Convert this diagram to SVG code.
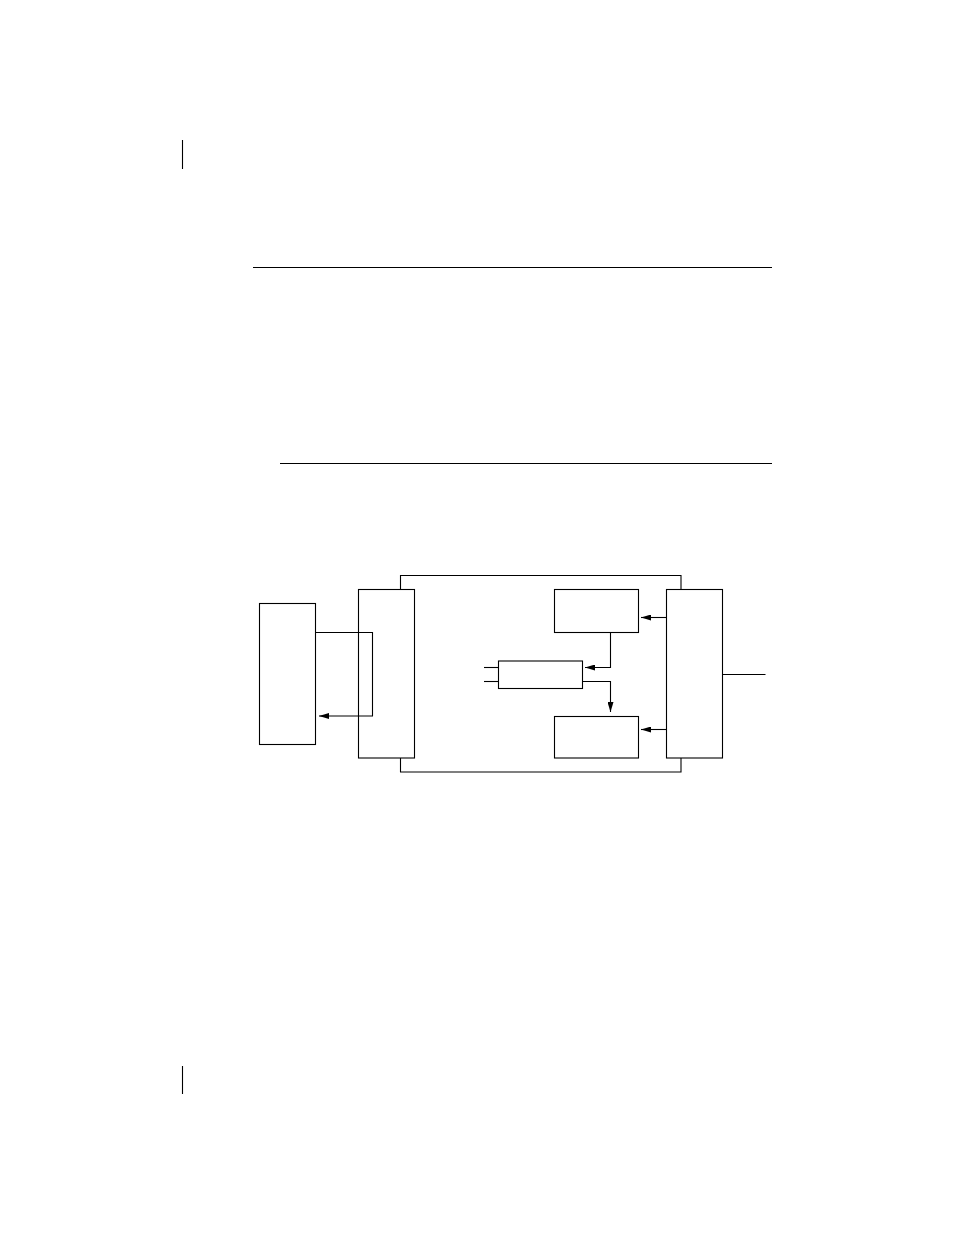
<svg xmlns="http://www.w3.org/2000/svg" width="954" height="1235" viewBox="0 0 954 1235">
<style>
.s{fill:none;stroke:#000;stroke-width:1.1}
.b{fill:#fff;stroke:#000;stroke-width:1.1}
</style>
<defs>
<marker id="ah" viewBox="0 0 10 6" refX="10" refY="3" markerWidth="10" markerHeight="6" markerUnits="userSpaceOnUse" orient="auto">
<path d="M0,0 L10,3 L0,6 Z" fill="#000"/>
</marker>
</defs>
<rect width="954" height="1235" fill="#fff"/>
<g id="page-marks">
<line class="s" x1="182.5" y1="140" x2="182.5" y2="169"/>
<line class="s" x1="182.5" y1="1066" x2="182.5" y2="1094"/>
<line class="s" x1="253" y1="267.5" x2="772" y2="267.5"/>
<line class="s" x1="280" y1="463.5" x2="772" y2="463.5"/>
</g>
<g id="frame">
<path class="s" d="M400.5,589 V575.5 H681 V589"/>
<path class="s" d="M400.5,758 V772 H681 V758"/>
</g>
<g id="node-left"><rect class="b" x="259.5" y="603.5" width="56" height="141"/></g>
<g id="node-interface-left"><rect class="s" x="358.5" y="589.5" width="56" height="168.5"/></g>
<g id="node-top"><rect class="b" x="554.5" y="589.5" width="84" height="43"/></g>
<g id="node-middle"><rect class="b" x="498.5" y="661" width="84" height="27.5"/></g>
<g id="node-bottom"><rect class="b" x="554.5" y="716.5" width="84" height="41.5"/></g>
<g id="node-interface-right"><rect class="b" x="666.5" y="589.5" width="56" height="168.5"/></g>
<g id="connectors">
<path class="s" d="M315.5,632.5 H372.5 V716 H319" marker-end="url(#ah)"/>
<line class="s" x1="666.5" y1="617.5" x2="641" y2="617.5" marker-end="url(#ah)"/>
<line class="s" x1="666.5" y1="729.5" x2="641" y2="729.5" marker-end="url(#ah)"/>
<path class="s" d="M610.5,632.5 V667.5 H585" marker-end="url(#ah)"/>
<path class="s" d="M582.5,681.5 H610.5 V712" marker-end="url(#ah)"/>
<line class="s" x1="484" y1="667.5" x2="498.5" y2="667.5"/>
<line class="s" x1="484" y1="681.5" x2="498.5" y2="681.5"/>
<line class="s" x1="722.5" y1="674.5" x2="765.5" y2="674.5"/>
</g>
</svg>
